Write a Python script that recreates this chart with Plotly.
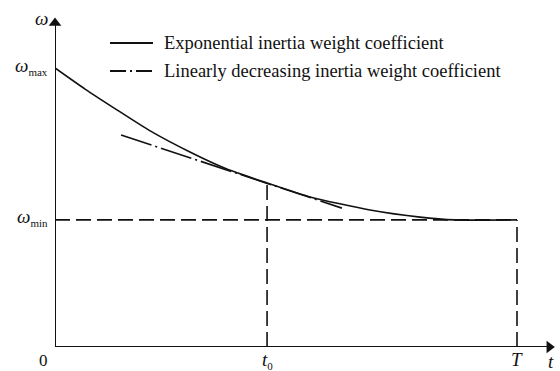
import plotly.graph_objects as go

# ---- data ----
T_END = 1.0
T0 = 0.459
W_MAX = 0.900
W_MIN = 0.410

exp_t = [0.0, 0.065, 0.134, 0.206, 0.292, 0.372, 0.459, 0.552, 0.682, 0.790, 0.866, 1.0]
exp_w = [0.900, 0.832, 0.765, 0.697, 0.629, 0.574, 0.529, 0.484, 0.442, 0.419, 0.410, 0.410]

lin_t = [0.143, 0.621]
lin_w = [0.684, 0.448]

wmin_t = [0.0, T_END]
wmin_w = [W_MIN, W_MIN]

t0_t = [T0, T0]
t0_w = [0.0, 0.529]

T_t = [T_END, T_END]
T_w = [0.0, W_MIN]

legend_labels = ["Exponential inertia weight coefficient",
                 "Linearly decreasing inertia weight coefficient"]
y_tick_vals = [W_MAX, W_MIN]
y_tick_text = ["<i>ω</i><sub><span style='font-size:11px'>max</span></sub>",
               "<i>ω</i><sub><span style='font-size:11px'>min</span></sub>"]
x_tick_vals = [T0, T_END]
x_tick_text = ["<i>t</i><sub><span style='font-size:11px'>0</span></sub>", "<i>T</i>"]

X_AXIS_END = 1.070
Y_AXIS_END = 1.045

FONT = "Liberation Serif, Times New Roman, serif"
BLACK = "#111111"

# plot area in pixels (used only for placing the legend texts)
L, R_EDGE, TOP, BOT = 55, 560, 0, 347


def px_to_paper(xp, yp):
    return (xp - L) / (R_EDGE - L), (BOT - yp) / (BOT - TOP)


fig = go.Figure()
dash_long = "15px,6px"
for xs, ys in [(wmin_t, wmin_w), (t0_t, t0_w), (T_t, T_w)]:
    fig.add_trace(go.Scatter(x=xs, y=ys, mode="lines",
                             line=dict(color=BLACK, width=1.6, dash=dash_long),
                             showlegend=False, hoverinfo="skip"))
fig.add_trace(go.Scatter(x=lin_t, y=lin_w, mode="lines",
                         line=dict(color=BLACK, width=1.6, dash="32px,4px,2px,4px"),
                         showlegend=False, hoverinfo="skip"))
fig.add_trace(go.Scatter(x=exp_t, y=exp_w, mode="lines",
                         line=dict(color=BLACK, width=1.6, shape="spline", smoothing=0.6),
                         showlegend=False, hoverinfo="skip"))

# axes with arrow heads
fig.add_trace(go.Scatter(x=[0, X_AXIS_END], y=[0, 0], mode="lines",
                         line=dict(color=BLACK, width=2), showlegend=False, hoverinfo="skip"))
fig.add_trace(go.Scatter(x=[0, 0], y=[0, Y_AXIS_END], mode="lines",
                         line=dict(color=BLACK, width=2), showlegend=False, hoverinfo="skip"))
fig.add_trace(go.Scatter(x=[X_AXIS_END], y=[0], mode="markers",
                         marker=dict(symbol="triangle-right", size=11, color=BLACK,
                                     line=dict(width=0)),
                         showlegend=False, hoverinfo="skip", cliponaxis=False))
fig.add_trace(go.Scatter(x=[0], y=[Y_AXIS_END], mode="markers",
                         marker=dict(symbol="triangle-up", size=11, color=BLACK,
                                     line=dict(width=0)),
                         showlegend=False, hoverinfo="skip", cliponaxis=False))

annotations = []
for v, txt in zip(y_tick_vals, y_tick_text):
    annotations.append(dict(x=0, y=v, xref="x", yref="y", text=txt, showarrow=False,
                            xanchor="right", yanchor="middle", xshift=-5, yshift=2,
                            font=dict(family=FONT, size=19, color=BLACK)))
for v, txt in zip(x_tick_vals, x_tick_text):
    annotations.append(dict(x=v, y=0, xref="x", yref="y", text=txt, showarrow=False,
                            xanchor="center", yanchor="top", yshift=0,
                            font=dict(family=FONT, size=19, color=BLACK)))
annotations.append(dict(x=0, y=1.061, xref="x", yref="y", text="<i>ω</i>", showarrow=False,
                        xanchor="center", yanchor="middle", xshift=-14,
                        font=dict(family=FONT, size=19, color=BLACK)))
annotations.append(dict(x=1.0736, y=0, xref="x", yref="y", text="<i>t</i>", showarrow=False,
                        xanchor="center", yanchor="top", yshift=-2,
                        font=dict(family=FONT, size=19, color=BLACK)))
annotations.append(dict(x=0, y=0, xref="x", yref="y", text="0", showarrow=False,
                        xanchor="center", yanchor="top", xshift=-12, yshift=-2,
                        font=dict(family=FONT, size=17, color=BLACK)))

legend_y_px = [43, 71]
for txt, ypx in zip(legend_labels, legend_y_px):
    px_, py_ = px_to_paper(162, ypx)
    annotations.append(dict(x=px_, y=py_, xref="paper", yref="paper",
                            text=txt, showarrow=False, xanchor="left", yanchor="middle",
                            font=dict(family=FONT, size=18.5, color=BLACK)))

shapes = []
for ypx, dash in zip(legend_y_px, ["solid", "16px,4px,2px,4px"]):
    x0, y0 = px_to_paper(110, ypx)
    x1, _ = px_to_paper(153, ypx)
    shapes.append(dict(type="line", xref="paper", yref="paper", x0=x0, x1=x1,
                       y0=y0, y1=y0, line=dict(color=BLACK, width=1.8, dash=dash)))

fig.update_layout(
    width=560, height=371,
    margin=dict(l=L, r=0, t=TOP, b=371 - BOT),
    paper_bgcolor="white", plot_bgcolor="white",
    xaxis=dict(range=[0, (R_EDGE - L) / 462], visible=False, fixedrange=True),
    yaxis=dict(range=[0, (BOT - TOP) / 310], visible=False, fixedrange=True),
    annotations=annotations, shapes=shapes,
    showlegend=False,
)
fig.write_html("out.html", config={"displayModeBar": False},
               post_script="document.body.style.margin='0px';")
